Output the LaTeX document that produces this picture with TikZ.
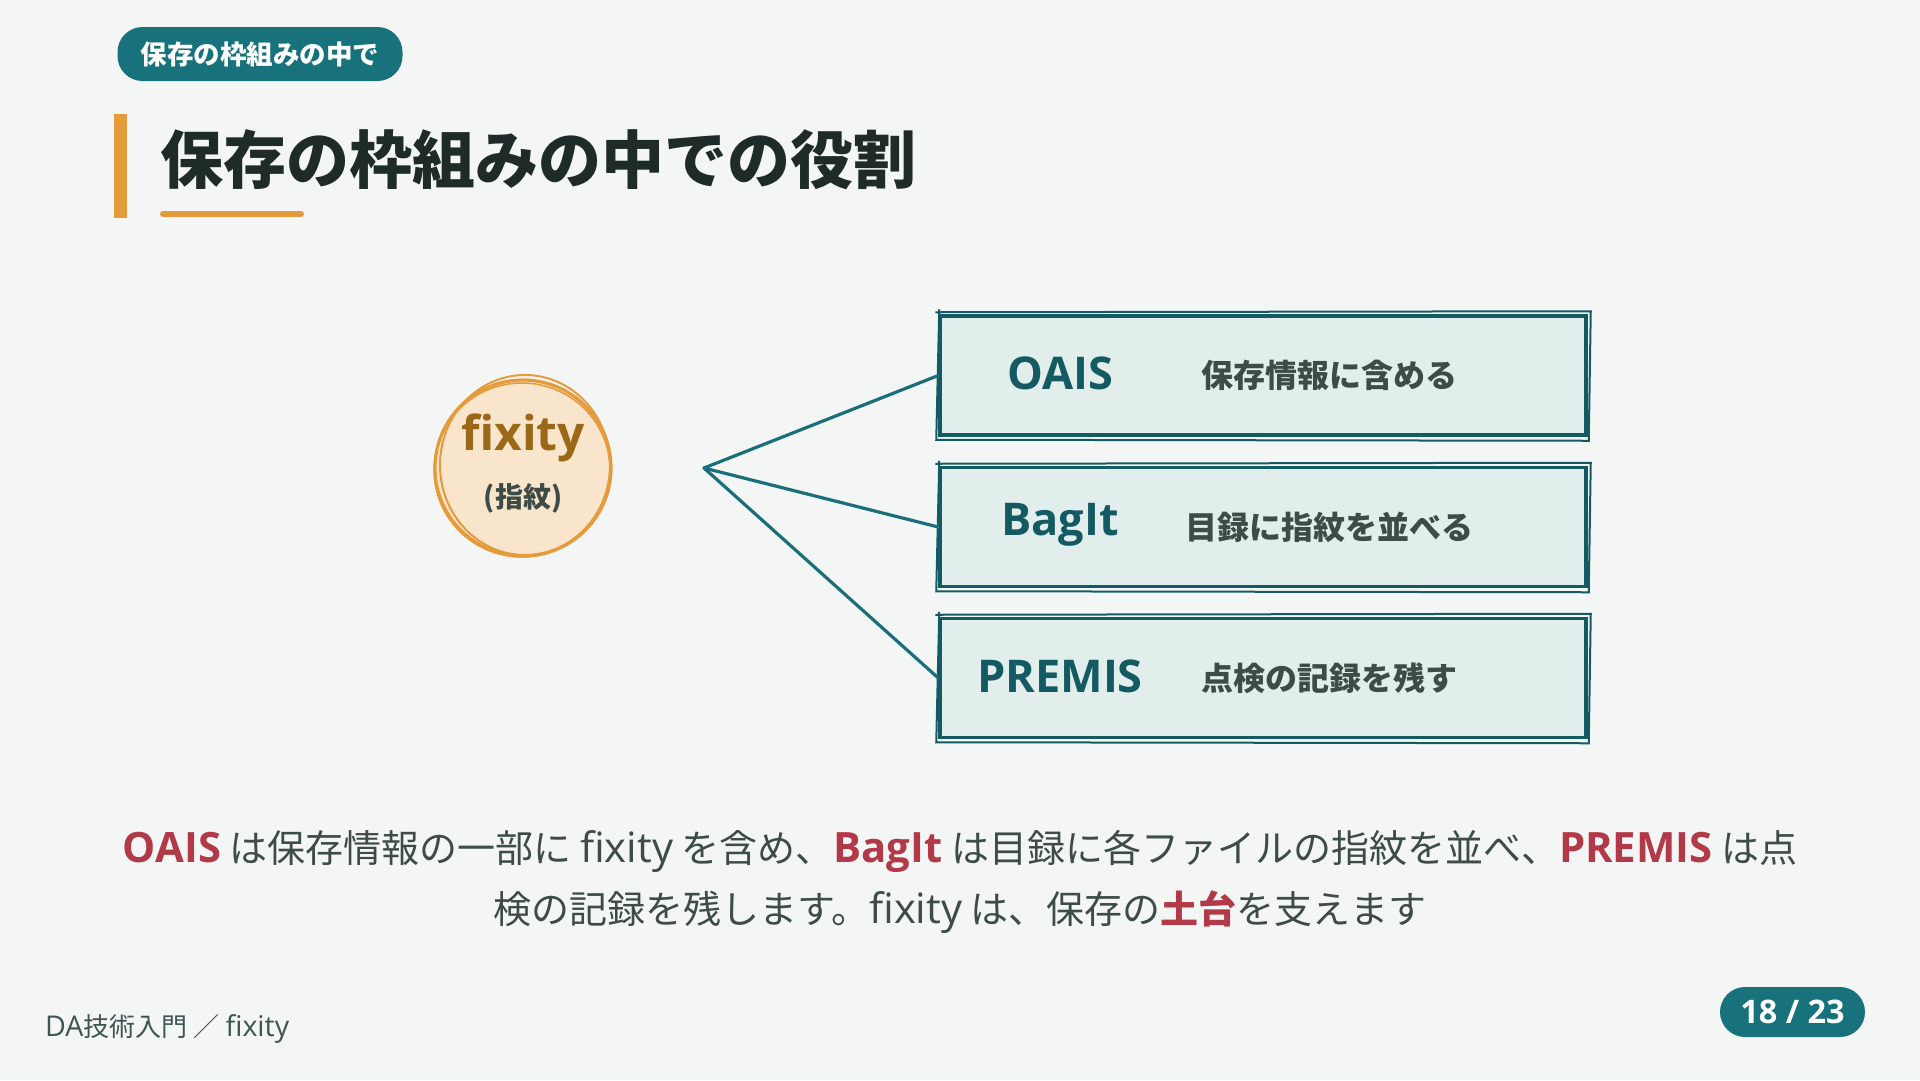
\documentclass[tikz,border=0pt]{standalone}
\usepackage{fontspec}
\setmainfont{Noto Sans CJK JP}
\newfontfamily\lt{Open Sans}[Scale=1.1]
\definecolor{bgc}{HTML}{F4F6F5}
\definecolor{teal}{HTML}{17727C}
\definecolor{dteal}{HTML}{135A63}
\definecolor{conn}{HTML}{1B6F7A}
\definecolor{orng}{HTML}{E39B3C}
\definecolor{ttl}{HTML}{1E2B28}
\definecolor{boxf}{HTML}{E2EEEC}
\definecolor{redc}{HTML}{B23A48}
\definecolor{grey}{HTML}{3E4C48}
\definecolor{circf}{HTML}{F8E5CB}
\definecolor{brown}{HTML}{9A6817}
\definecolor{foot}{HTML}{3F5553}
\tikzset{
  pill/.style={fill=teal, rounded corners=25, text=white, inner sep=0},
  box/.style={rectangle, fill=boxf, draw=dteal, line width=3.5, minimum width=646, minimum height=119, inner sep=0},
  sketch/.style={draw=dteal, line width=2},
  lbl/.style={text=dteal, font=\lt\bfseries\fontsize{41}{50}\selectfont, inner sep=0},
  desc/.style={text=grey, font=\bfseries\fontsize{32}{36}\selectfont, inner sep=0},
  conn/.style={draw=conn, line width=3.2, line cap=round},
}
\newcommand{\hl}[1]{\textcolor{redc}{\lt\bfseries #1}}
\begin{document}
\begin{tikzpicture}[x=1pt,y=-1pt]
\fill[bgc] (0,0) rectangle (1920,1080);
\useasboundingbox (0,0) rectangle (1920,1080);
% tag pill
\node[pill, minimum width=285, minimum height=54, font=\bfseries\fontsize{26.5}{30}\selectfont] (tag) at (260,54) {保存の枠組みの中で};
% title
\fill[orng] (114,114) rectangle (127,218);
\node[anchor=west, inner sep=0, text=ttl, font=\bfseries\fontsize{63}{70}\selectfont] (title) at (160,160) {保存の枠組みの中での役割};
\draw[orng, line width=6, line cap=round] (163,214) -- (301,214);
% circle
\node[circle, minimum size=176, fill=circf, draw=orng, line width=3.2] (fx) at (523,468) {};
\draw[orng, line width=2] ([xshift=2,yshift=3]fx.center) ellipse (85 and 90);
\draw[orng, line width=1.5] ([xshift=-1,yshift=-2]fx.center) ellipse (88 and 87);
\node[text=brown, inner sep=0, font=\lt\bfseries\fontsize{43.5}{50}\selectfont] (fxt) at (523,438) {fixity};
\node[text=grey, inner sep=0, font=\bfseries\fontsize{28}{32}\selectfont] (fxs) at (523,498) {(指紋)};
% hub and boxes
\coordinate (hub) at (704,468);
\node[box] (b1) at (1263,375.5) {};
\node[box] (b2) at (1263,527) {};
\node[box] (b3) at (1263,678) {};
\foreach \b in {b1,b2,b3}{
  \draw[sketch] ([shift={(-3,-2)}]\b.north west) -- ([shift={(3,-3)}]\b.north east) -- ([shift={(1,4)}]\b.south east) -- ([shift={(-2,3)}]\b.south west) -- ([shift={(1,-5)}]\b.north west);
}
\node[lbl] (l1) at (1060,373) {OAIS};
\node[desc] (d1) at (1329,375) {保存情報に含める};
\node[lbl] (l2) at (1060,525) {BagIt};
\node[desc] (d2) at (1329,527) {目録に指紋を並べる};
\node[lbl] (l3) at (1060,676) {PREMIS};
\node[desc] (d3) at (1329,678) {点検の記録を残す};
\draw[conn] (hub) -- (b1.west);
\draw[conn] (hub) -- (b2.west);
\draw[conn] (hub) -- (b3.west);
% paragraph
\node[align=center, text=grey, inner sep=0, font=\fontsize{38}{61}\selectfont] (para) at (960,882)
 {\hl{OAIS} は保存情報の一部に {\lt fixity} を含め、\hl{BagIt} は目録に各ファイルの指紋を並べ、\hl{PREMIS} は点\\
  検の記録を残します。{\lt fixity} は、保存の\textcolor{redc}{\bfseries 土台}を支えます};
% footer
\node[anchor=west, text=foot, inner sep=0, font=\fontsize{26}{30}\selectfont] (footer) at (45,1029) {{\lt DA}技術入門\hspace{6pt}／\hspace{6pt}{\lt fixity}};
\node[pill, minimum width=145, minimum height=50, font=\lt\bfseries\fontsize{29.5}{34}\selectfont] (page) at (1792.5,1012) {18 / 23};
\end{tikzpicture}
\end{document}
